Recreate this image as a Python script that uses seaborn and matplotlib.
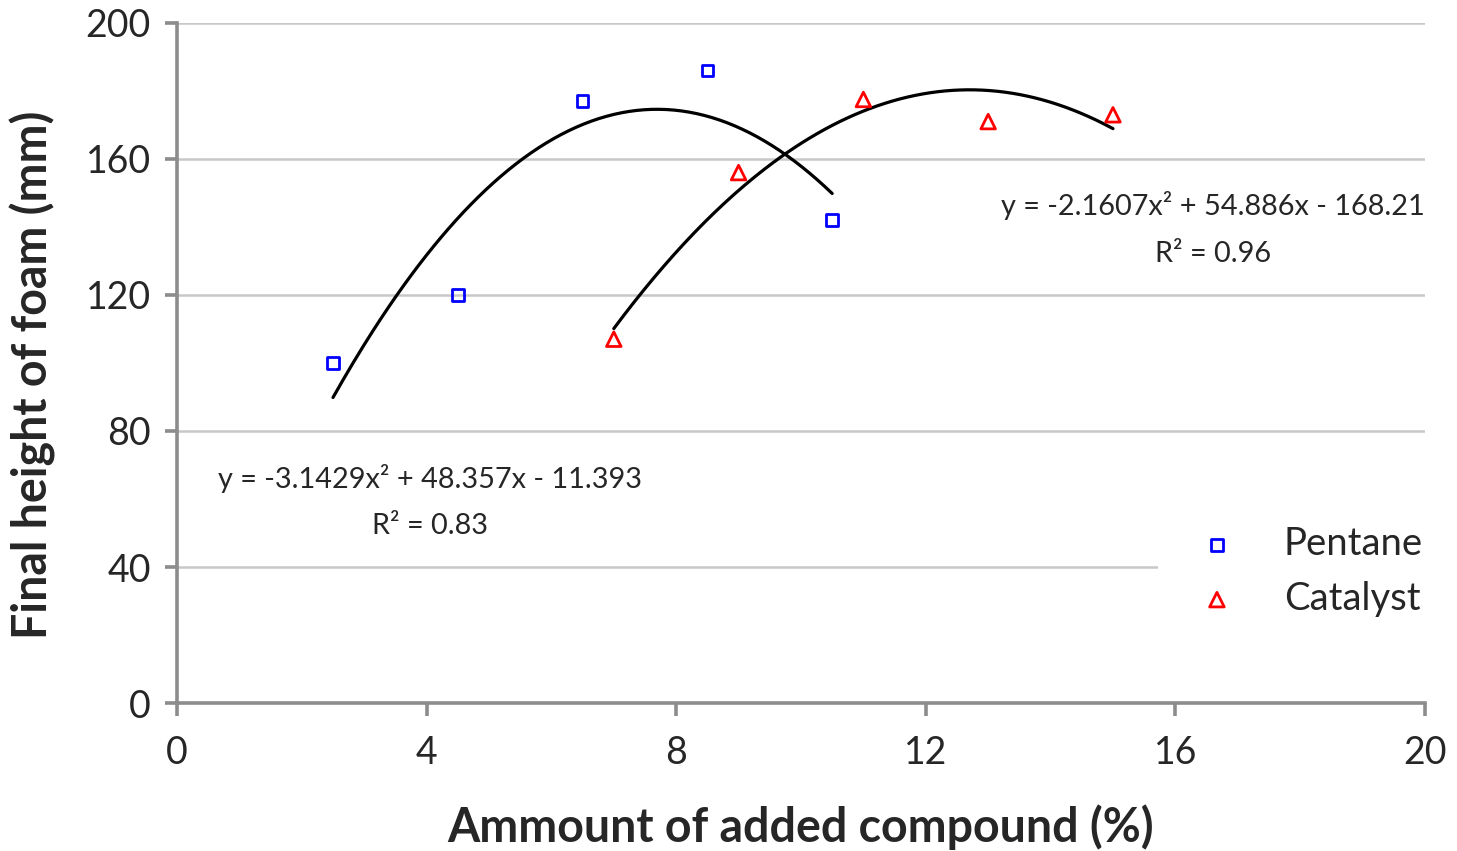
import numpy as np
import pandas as pd
import matplotlib
matplotlib.use("Agg")
import matplotlib.pyplot as plt
import seaborn as sns

# Measured foam heights
pentane_x = [2.5, 4.5, 6.5, 8.5, 10.5]
pentane_y = [100, 120, 177, 186, 142]
catalyst_x = [7, 9, 11, 13, 15]
catalyst_y = [107, 156, 177.5, 171, 173]

# Quadratic trend coefficients (a, b, c) for y = a x^2 + b x + c
pentane_fit = [-3.1429, 48.357, -11.393]
catalyst_fit = [-2.1607, 54.886, -168.21]
pentane_r2 = 0.83
catalyst_r2 = 0.96

x_ticks = [0, 4, 8, 12, 16, 20]
y_ticks = [0, 40, 80, 120, 160, 200]

sns.set_theme(style="white")
plt.rcParams["font.family"] = ["Lato", "DejaVu Sans"]

fig = plt.figure(figsize=(14.57, 8.51), dpi=100)
ax = fig.add_axes([0.1215, 0.1739, 0.8565, 0.7991])

pent = pd.DataFrame({"x": pentane_x, "y": pentane_y})
cat = pd.DataFrame({"x": catalyst_x, "y": catalyst_y})

# trend curves over each data range
def curve(coefs, xs):
    xx = np.linspace(min(xs), max(xs), 200)
    return pd.DataFrame({"x": xx, "y": np.polyval(coefs, xx)})

sns.lineplot(data=curve(pentane_fit, pentane_x), x="x", y="y", ax=ax,
             color="black", linewidth=2.3, legend=False, zorder=3)
sns.lineplot(data=curve(catalyst_fit, catalyst_x), x="x", y="y", ax=ax,
             color="black", linewidth=2.3, legend=False, zorder=3)

sns.scatterplot(data=pent, x="x", y="y", ax=ax, marker="s", s=70,
                facecolor="none", edgecolor="#0000ff", linewidth=2.0,
                label="Pentane", zorder=4)
sns.scatterplot(data=cat, x="x", y="y", ax=ax, marker="^", s=110,
                facecolor="none", edgecolor="#ff0000", linewidth=2.0,
                label="Catalyst", zorder=4)

ax.set_xlim(0, 20)
ax.set_ylim(0, 200)
ax.set_xticks(x_ticks)
ax.set_yticks(y_ticks)
ax.grid(axis="y", color="#c8c8c8", linewidth=1.8)
ax.grid(axis="x", visible=False)
ax.set_axisbelow(True)

for side in ["top", "right"]:
    ax.spines[side].set_visible(False)
for side in ["left", "bottom"]:
    ax.spines[side].set_color("#8c8c8c")
    ax.spines[side].set_linewidth(2.6)
ax.tick_params(axis="both", which="major", direction="out", length=9,
               width=2.6, color="#8c8c8c", labelsize=27, bottom=True, left=True)
ax.tick_params(axis="x", pad=14)
ax.tick_params(axis="y", pad=10)

ax.set_xlabel("Ammount of added compound (%)", fontsize=33.5, fontweight="bold",
              labelpad=24)
ax.set_ylabel("Final height of foam (mm)", fontsize=33.5, fontweight="bold",
              labelpad=21)
ax.yaxis.label.set_y(0.482)

def eq_text(c):
    sign_b = "+" if c[1] >= 0 else "-"
    sign_c = "+" if c[2] >= 0 else "-"
    return f"y = {c[0]:.4f}x\u00b2 {sign_b} {abs(c[1]):.3f}x {sign_c} {abs(c[2]):g}"

fs_eq = 20.8
ax.text(4.05, 65.9, eq_text(pentane_fit), fontsize=fs_eq, ha="center", va="center")
ax.text(4.05, 52, f"R\u00b2 = {pentane_r2:.2f}", fontsize=fs_eq, ha="center", va="center")
ax.text(16.6, 146.2, eq_text(catalyst_fit), fontsize=fs_eq, ha="center", va="center")
ax.text(16.6, 132, f"R\u00b2 = {catalyst_r2:.2f}", fontsize=fs_eq, ha="center", va="center")

handles, labels = ax.get_legend_handles_labels()
leg = ax.legend(handles, labels, loc="lower right", bbox_to_anchor=(1.0305, 0.068),
                fontsize=27.5, frameon=True, facecolor="white", edgecolor="white",
                framealpha=1.0, handletextpad=0.75, labelspacing=0.48,
                borderpad=0.55, markerscale=1.0)
leg.get_frame().set_linewidth(0)

fig.savefig("out.png", dpi=100, facecolor="white")
